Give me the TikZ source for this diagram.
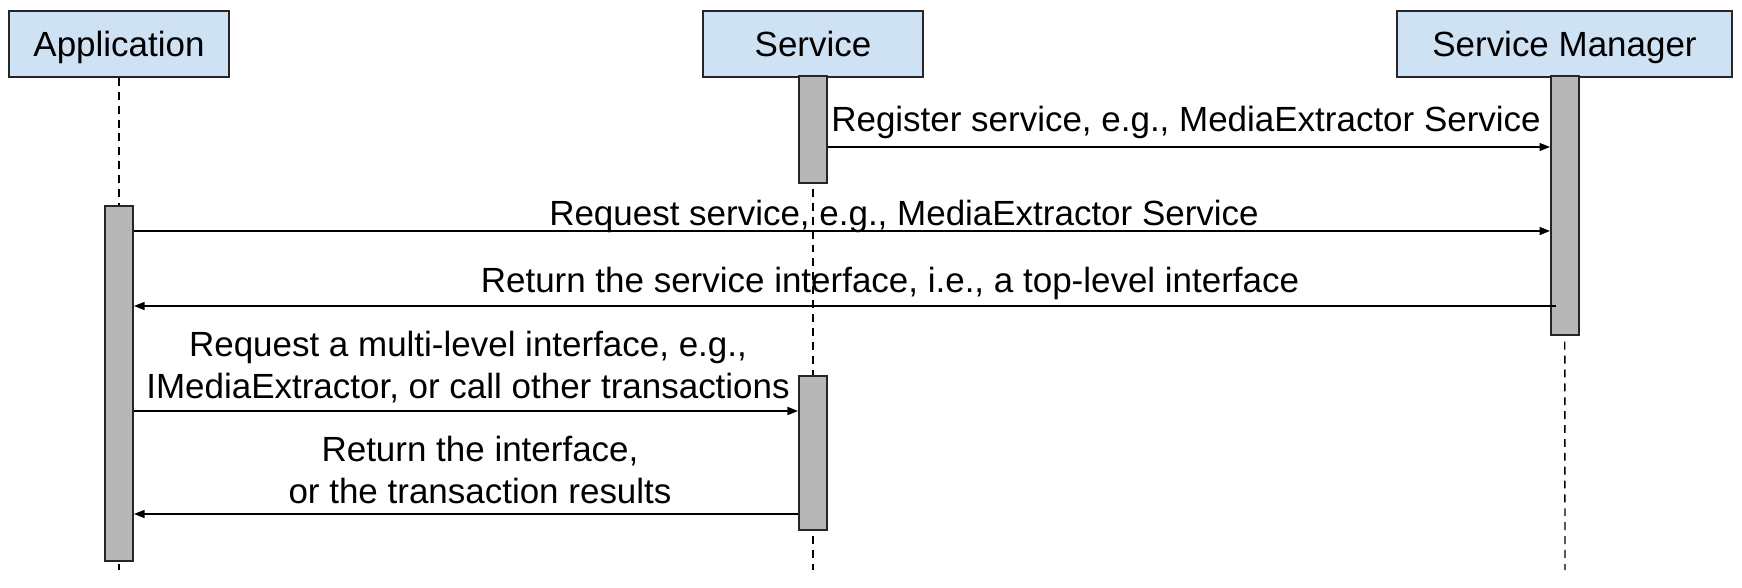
\documentclass[tikz,border=0pt]{standalone}
\usepackage{fontspec}
\setmainfont{Liberation Sans}
\usetikzlibrary{arrows.meta}
\definecolor{boxblue}{HTML}{CFE2F3}
\definecolor{bargray}{HTML}{B7B7B7}
\tikzset{
  actor/.style={draw=black!85,line width=1.1pt,fill=boxblue,minimum height=1.32cm,
    inner sep=0pt,text height=0.67cm,text depth=0.15cm},
  bar/.style={draw=black!85,line width=1.1pt,fill=bargray,minimum width=0.56cm,inner sep=0pt},
  lifeline/.style={dash pattern=on 4.5pt off 3.4pt,line width=0.8pt},
  msg/.style={line width=0.8pt,-{Triangle[length=6pt,width=4.5pt]}},
  msgbold/.style={msg,line width=1.1pt},
  msgtext/.style={anchor=base,inner sep=0pt,align=center}
}
\begin{document}
\begin{tikzpicture}[font=\fontsize{19.9}{23.9}\selectfont]
    \useasboundingbox (0,0) rectangle (34.84,-11.76);
    %
    \node[actor,minimum width=4.4cm] (app) at (2.38,-0.88) {Application};
    \node[actor,minimum width=4.4cm] (srv) at (16.26,-0.88) {Service};
    \node[actor,minimum width=6.7cm] (mgr) at (31.29,-0.88) {Service Manager};
    %
    \coordinate (appEnd) at (2.38,-11.4);
    \coordinate (srvEnd) at (16.26,-11.4);
    \coordinate (mgrEnd) at (31.30,-11.4);
    \draw[lifeline] (app.south) -- (appEnd);
    \draw[lifeline] (srv.south) -- (srvEnd);
    \draw[lifeline] (mgr.south) -- (mgrEnd);
    %
    \node[bar,minimum height=7.10cm] (appBar) at (2.38,-7.67) {};
    \node[bar,minimum height=2.14cm] (srvBarA) at (16.26,-2.59) {};
    \node[bar,minimum height=5.18cm] (mgrBar) at (31.30,-4.11) {};
    \node[bar,minimum height=3.08cm] (srvBarB) at (16.26,-9.06) {};
    %
    \coordinate (m1) at (0,-2.94);
    \coordinate (m2) at (0,-4.62);
    \coordinate (m3) at (0,-6.12);
    \coordinate (m4) at (0,-8.22);
    \coordinate (m5) at (0,-10.28);
    \draw[msg] (srvBarA.east |- m1) -- (mgrBar.west |- m1);
    \draw[msgbold] (appBar.east |- m2) -- (mgrBar.west |- m2);
    \draw[msg] ([xshift=0.12cm]mgrBar.west |- m3) -- (appBar.east |- m3);
    \draw[msgbold] (appBar.east |- m4) -- (srvBarB.west |- m4);
    \draw[msg] (srvBarB.west |- m5) -- (appBar.east |- m5);
    %
    \node[msgtext] (t1) at (23.72,-2.64) {Register service, e.g., MediaExtractor Service};
    \node[msgtext] (t2) at (18.08,-4.52) {Request service, e.g., MediaExtractor Service};
    \node[msgtext] (t3) at (17.80,-5.86) {Return the service interface, i.e., a top-level interface};
    \node[msgtext] (t4) at (9.36,-7.98) {Request a multi-level interface, e.g.,\\IMediaExtractor, or call other transactions};
    \node[msgtext] (t5) at (9.60,-10.08) {Return the interface,\\or the transaction results};
\end{tikzpicture}
\end{document}
